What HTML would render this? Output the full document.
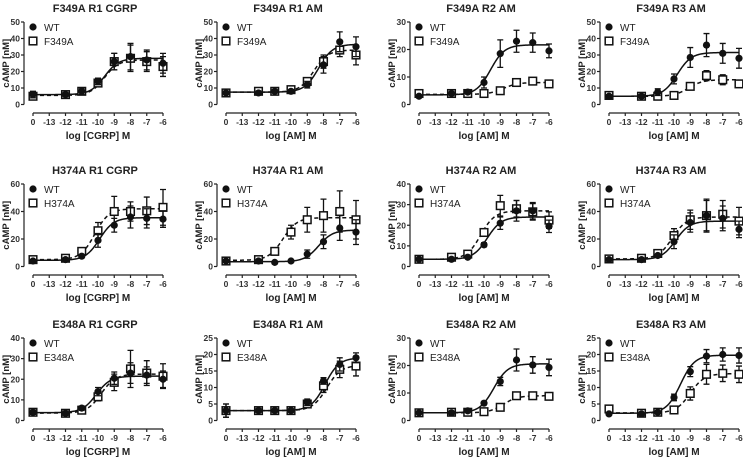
<!DOCTYPE html>
<html><head><meta charset="utf-8"><style>
html,body{margin:0;padding:0;background:#fff;width:743px;height:458px;overflow:hidden}
svg text{font-family:"Liberation Sans",Arial,sans-serif}
</style></head><body>
<svg id="chart" width="743" height="458" viewBox="0 0 743 458" xmlns="http://www.w3.org/2000/svg"></svg>
<script>
const titles=["F349A R1 CGRP","F349A R1 AM","F349A R2 AM","F349A R3 AM","H374A R1 CGRP","H374A R1 AM","H374A R2 AM","H374A R3 AM","E348A R1 CGRP","E348A R1 AM","E348A R2 AM","E348A R3 AM"];
const mutantNames=["F349A","F349A","F349A","F349A","H374A","H374A","H374A","H374A","E348A","E348A","E348A","E348A"];
const ligands=["CGRP","AM","AM","AM","CGRP","AM","AM","AM","CGRP","AM","AM","AM"];
const yMaxes=[50,50,30,50,60,60,40,60,40,25,30,25];
const ySteps=[10,10,10,10,20,20,10,20,10,5,10,5];
const xTickLabels=["0","-13","-12","-11","-10","-9","-8","-7","-6"];
const doseSlots=[0,2,3,4,5,6,7,8];
const wtMeans=[
[6,6,8,14,26,29,27,25],[7,7,8,8,12,24,38,35],[3,4,4.5,8,18.5,23,22.5,19.5],[5,5,7.5,15.5,28.5,36,31,28],
[4,5,7.5,19,30,36,35,34.5],[4,4,3,4,9,18,28,25],[3.5,3.5,4.5,10.5,21,27,27,19.5],[5,5,8,18,32,37,35,27],
[4,3.5,6,14,20.5,23,22,20],[3,3,3,3,5.5,12,17,19],[2.8,2.8,3.5,6.3,14.2,22,20.2,19.3],[2,2,2.5,7,14.8,19.5,20,19.7]];
const wtErrs=[
[2,1,2,2,5,8,6,6],[1,1,1,1,2,5,6,6],[0.5,0.5,0.5,2,5,4,3.5,2.5],[1,1,2,3,6,7,6,6],
[1,1,1,5,5,8,7,6],[0.5,0.5,0.5,0.5,3,5,9,9],[0.5,0.5,0.5,1,3,5,4,3],[1,1,1,5,7,11,9,6],
[1,1,1,2,3,5,4,4],[2,0.5,0.5,0.5,1,1,2,1.5],[0.3,0.3,0.5,0.5,1.5,4,3,3],[0.3,0.3,0.3,1,1.5,2,2,2.3]];
const mutMeans=[
[5,6,8,13,26,28,26,23],[7,8,8,9,14,26,33,30],[4,4,4,4,5,8,8.5,7.5],[5.5,5,5,5.5,11,17.5,15,12.5],
[5,6,11,26,40,40,40.5,43],[4,5,11,25,34,37,40,34],[3.5,4.5,6,16.5,29.5,28,26.5,22.5],[5.5,6,9.5,22.5,34,37,38,33],
[4,3.5,5,11.5,18.5,25,23,21.5],[3,3,3,3,5,10.5,15.5,16.5],[2.8,3,3,3.2,4.8,9,9,8.8],[3.5,2.2,2.5,3.2,8.2,14,14.3,14]];
const mutErrs=[
[2,1,2,2,5,8,6,6],[1,1,1,1,2,4,4,6],[0.5,0.5,0.5,0.5,0.5,0.7,1,0.7],[1,1,1,1,2,3,3,2],
[1,1,2,6,11,7,10,13],[1,1,2,5,9,12,15,14],[0.5,0.5,1,1.5,5,4,4,4],[1,1,1,5,7,12,10,10],
[1,1,1,2,4,9,6,6],[2,0.5,0.5,0.5,1,2,2.5,3],[0.3,0.3,0.3,0.3,0.5,0.8,0.8,0.6],[1,0.3,0.3,0.5,2,3,2.5,2.5]];
const wtFitBottom=[6,7.5,3.5,5,4.5,3.5,3.5,5,3.8,3,2.8,2.2];
const wtFitTop=[28,36.5,21.7,31.5,35.5,26.5,24,33,21.5,19,20.6,19.8];
const wtFitEC50=[-9.6,-8.3,-9.6,-9.8,-9.9,-8.3,-9.8,-9.9,-10.1,-7.9,-9.4,-9.6];
const mutFitBottom=[5.5,7.5,3.7,5,5,4.5,3.5,5.5,3.6,3,2.8,2.3];
const mutFitTop=[27,33,8,15,42,35.5,27,36,22.5,16.7,9,14.2];
const mutFitEC50=[-9.6,-8.6,-8.8,-9.1,-10.2,-10.5,-10.2,-10.1,-9.8,-7.8,-8.8,-9.0];

const NS="http://www.w3.org/2000/svg";
const svg=document.getElementById('chart');
const colX0=[33,226,419,609];
const rowBase=[0,162,316];
const PW=130;
function mk(tag,attrs,parent){const e=document.createElementNS(NS,tag);for(const k in attrs)e.setAttribute(k,attrs[k]);(parent||svg).appendChild(e);return e;}

for(let p=0;p<12;p++){
  const x0=colX0[p%4], rb=rowBase[Math.floor(p/4)];
  const yTop=22+rb, yZero=104.5+rb, xAxisY=113+rb, yAxisX=x0-9;
  const g=mk('g',{});
  
  
  const xs=i=>x0+i*PW/8;
  const ys=v=>yZero-(v/yMaxes[p])*(yZero-yTop);
  const t=mk('text',{x:x0+62,y:12+rb,'text-anchor':'middle','font-size':'11','font-weight':'bold',fill:'#222'},g);
  t.textContent=titles[p];
  
  
  const ya=mk('line',{x1:yAxisX,x2:yAxisX,y1:yTop,y2:yZero,stroke:'#222','stroke-width':1.2},g);
  
  
  for(let v=0;v<=yMaxes[p]+1e-9;v+=ySteps[p]){
    mk('line',{x1:yAxisX-3,x2:yAxisX,y1:ys(v),y2:ys(v),stroke:'#222','stroke-width':1.2},g);
    const tl=mk('text',{x:yAxisX-4,y:ys(v)+3,'text-anchor':'end','font-size':'8.5','font-weight':'bold',fill:'#333'},g);
    tl.textContent=v;
    
    
  }
  const yt=mk('text',{x:0,y:0,'text-anchor':'middle','font-size':'9.5','font-weight':'bold',fill:'#222',transform:`translate(${x0-24},${(yTop+yZero)/2}) rotate(-90)`},g);
  yt.textContent='cAMP [nM]';
  
  
  const xa=mk('line',{x1:x0,x2:x0+PW,y1:xAxisY,y2:xAxisY,stroke:'#222','stroke-width':1.2},g);
  
  
  xTickLabels.forEach((lab,i)=>{
    mk('line',{x1:xs(i),x2:xs(i),y1:xAxisY,y2:xAxisY+3,stroke:'#222','stroke-width':1.2},g);
    const tl=mk('text',{x:xs(i),y:xAxisY+12,'text-anchor':'middle','font-size':'8.5','font-weight':'bold',fill:'#333'},g);
    tl.textContent=lab;
    
    
  });
  const xt=mk('text',{x:x0+PW/2,y:xAxisY+26,'text-anchor':'middle','font-size':'10','font-weight':'bold',fill:'#222'},g);
  xt.textContent='log ['+ligands[p]+'] M';
  
  
  function curve(b,tp,ec,dash,name){
    let d='';
    for(let k=0;k<=160;k++){const i=k*8/160;const lx=-14+i;const v=b+(tp-b)/(1+Math.pow(10,ec-lx));d+=(k?'L':'M')+xs(i).toFixed(2)+' '+ys(v).toFixed(2);}
    const pth=mk('path',{d:d,fill:'none',stroke:'#111','stroke-width':1.5,'stroke-dasharray':dash},g);
    
    
  }
  curve(mutFitBottom[p],mutFitTop[p],mutFitEC50[p],'4,3','mutant-fit-curve');
  curve(wtFitBottom[p],wtFitTop[p],wtFitEC50[p],'none','wt-fit-curve');
  function series(means,errs,isMut){
    means.forEach((m,j)=>{
      const cx=xs(doseSlots[j]), e=errs[j];
      const eb=mk('path',{d:`M${cx} ${ys(m+e)}V${ys(m-e)}M${cx-3} ${ys(m+e)}H${cx+3}M${cx-3} ${ys(m-e)}H${cx+3}`,stroke:'#111','stroke-width':1.3,fill:'none'},g);
      
      
      let mkr;
      if(isMut){mkr=mk('rect',{x:cx-3.8,y:ys(m)-3.8,width:7.6,height:7.6,fill:'#fff',stroke:'#111','stroke-width':1.5},g);}
      else{mkr=mk('circle',{cx:cx,cy:ys(m),r:3.6,fill:'#111'},g);}
      
      
    });
  }
  series(mutMeans[p],mutErrs[p],true);
  series(wtMeans[p],wtErrs[p],false);
  const lg=mk('g',{},g);
  
  
  mk('circle',{cx:x0,cy:27+rb,r:3.6,fill:'#111'},lg);
  const l1=mk('text',{x:x0+11,y:31+rb,'font-size':'10',fill:'#222'},lg);
  l1.textContent='WT';
  
  
  mk('rect',{x:x0-3.8,y:41+rb-3.8,width:7.6,height:7.6,fill:'#fff',stroke:'#111','stroke-width':1.5},lg);
  const l2=mk('text',{x:x0+11,y:45+rb,'font-size':'10',fill:'#222'},lg);
  l2.textContent=mutantNames[p];
  
  
}
</script>
</body></html>
